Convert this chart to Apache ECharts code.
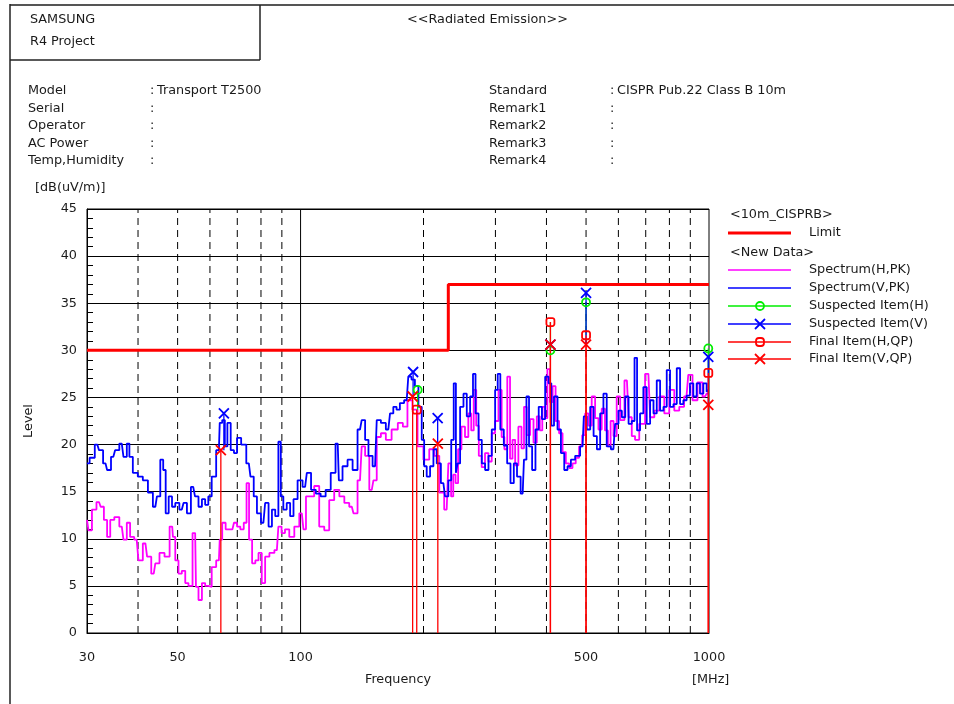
<!DOCTYPE html>
<html><head><meta charset="utf-8">
<script src="https://cdn.jsdelivr.net/npm/echarts@6/dist/echarts.min.js"></script>
<style>html,body{margin:0;padding:0;background:#fff}#c{width:954px;height:704px}</style>
</head><body><div id="c"></div>
<script>
// ---- data (frequency MHz, level dB(uV/m)) ----
const specV = [[30,18.0],[30.9,18.6],[31.8,20.0],[32.4,19.4],[33.3,18.0],[33.9,17.3],[34.8,18.7],[35.5,19.4],[36.5,20.1],[37.2,18.7],[37.9,20.1],[38.3,18.7],[39.4,17.0],[40.5,16.6],[41.7,16.2],[42.9,14.9],[44.1,13.4],[44.9,14.5],[45.8,18.4],[46.4,17.3],[47.1,12.7],[48.0,14.5],[48.9,13.4],[49.8,13.8],[51.2,13.1],[52.2,13.8],[53.2,12.7],[54.6,15.5],[55.7,14.5],[56.8,13.4],[57.9,14.2],[58.9,13.6],[60.0,14.5],[61.2,16.6],[63.1,19.4],[63.7,22.3],[64.9,22.6],[65.6,19.8],[66.8,22.3],[68.1,19.4],[69.3,19.1],[70.5,20.7],[72.6,20.0],[74.7,18.0],[76.1,16.6],[77.5,14.5],[78.9,12.7],[81.1,11.7],[82.7,13.8],[84.3,11.3],[85.9,13.1],[87.5,12.4],[89.0,20.3],[89.9,14.5],[91.6,13.1],[93.4,13.8],[95.2,12.4],[97.0,14.2],[99.7,16.2],[102.6,15.5],[104.6,17.0],[107.6,15.2],[110.4,14.8],[113.6,14.5],[116.8,15.2],[120.3,17.0],[123.3,20.1],[124.9,16.2],[128.5,17.7],[132.2,18.4],[136.0,17.3],[139.8,21.6],[142.5,22.6],[145.3,20.5],[148.0,18.8],[152.2,17.7],[155.1,22.6],[159.5,22.3],[164.0,21.6],[167.2,23.3],[170.2,24.0],[173.4,23.7],[176.7,24.4],[181.9,24.7],[185.2,27.2],[188.6,26.9],[192.5,26.2],[196.2,24.0],[199.8,20.5],[201.7,17.7],[205.6,16.6],[209.5,17.7],[213.5,19.5],[217.5,18.0],[223.7,15.9],[227.9,14.5],[232.3,16.2],[235.4,20.5],[238.9,26.5],[241.2,17.0],[243.5,18.0],[248.2,24.0],[252.9,25.4],[257.6,23.0],[262.6,25.1],[266.1,27.5],[270.2,23.3],[275.3,20.5],[280.3,18.0],[285.8,17.3],[291.2,18.8],[296.6,21.6],[302.4,25.8],[305.3,27.5],[311.5,21.6],[317.5,19.9],[323.5,18.0],[329.7,15.9],[335.8,18.0],[341.8,16.6],[349.8,14.8],[354.9,18.4],[359.7,25.1],[365.4,19.8],[372.5,17.3],[379.4,21.6],[386.4,24.0],[393.4,22.7],[400.8,27.2],[409.1,26.5],[413.2,22.0],[421.6,25.1],[429.9,21.6],[438.1,19.1],[446.3,17.3],[454.5,17.7],[463.6,18.4],[476.9,18.8],[490.3,19.8],[497.3,23.0],[506.8,21.6],[516.9,24.0],[526.6,20.9],[536.4,19.5],[546.4,23.3],[556.5,25.4],[567.2,19.8],[583.4,19.5],[594.8,22.2],[606.0,23.6],[617.6,22.9],[629.6,25.1],[641.4,22.2],[652.7,22.5],[661.7,29.2],[671.6,21.5],[684.4,23.3],[697.1,26.1],[710.6,22.2],[724.6,24.7],[738.1,23.3],[751.7,26.8],[766.5,23.6],[780.9,24.0],[795.2,27.9],[810.7,24.0],[826.2,24.3],[841.6,28.1],[857.4,24.3],[873.6,24.7],[889.8,25.2],[906.8,26.5],[924.1,25.1],[941.6,26.5],[959.6,25.4],[977.6,26.5],[995.9,25.6],[1000,25.8]];

const specH = [[30,12.0],[30.5,10.9],[31.2,13.1],[32.1,13.9],[32.7,13.4],[33.3,12.0],[33.9,10.2],[34.5,12.0],[35.5,12.3],[36.5,11.3],[37.2,9.9],[37.9,11.7],[38.6,10.2],[39.7,9.9],[40.5,7.7],[41.7,9.5],[42.5,8.1],[43.7,6.3],[44.5,7.4],[45.8,8.5],[47.1,8.1],[48.5,11.3],[48.9,10.2],[49.8,7.7],[50.7,6.3],[51.7,6.6],[52.7,5.3],[53.6,5.0],[55.2,10.6],[55.7,4.9],[56.8,3.5],[57.9,5.3],[58.9,5.0],[60.0,4.9],[61.2,7.0],[63.1,7.7],[63.7,9.9],[64.9,11.7],[66.2,11.0],[68.1,11.0],[69.3,11.7],[70.5,11.3],[71.9,11.0],[73.3,11.7],[74.2,15.9],[75.4,9.9],[76.8,7.4],[78.2,7.7],[79.6,8.5],[81.1,5.3],[82.7,8.1],[85.1,8.5],[87.5,8.8],[89.0,11.3],[90.7,10.6],[92.5,11.0],[95.2,10.2],[97.9,11.3],[100.7,12.7],[102.6,11.0],[103.6,14.5],[106.5,14.5],[109.5,15.6],[112.7,11.3],[115.9,10.9],[119.2,14.1],[122.6,15.2],[126.3,14.5],[129.7,13.8],[133.5,13.4],[136.0,12.7],[139.8,16.2],[142.5,19.8],[145.3,18.8],[149.4,15.2],[152.2,16.2],[155.1,20.8],[159.5,21.2],[164.0,20.5],[170.2,21.6],[175.9,22.3],[180.2,21.9],[185.2,24.7],[190.6,23.7],[196.2,19.8],[203.7,18.4],[209.5,19.5],[215.6,18.8],[221.6,14.9],[227.9,13.1],[232.3,18.0],[235,14.5],[238,16.8],[241.2,15.9],[245,19.5],[250.4,21.9],[255,20.8],[260,23.3],[263.5,21.5],[267.4,25.8],[271,22.0],[275.3,18.8],[280,17.6],[285.8,19.1],[291,18.2],[296.6,21.2],[302,22.5],[308.4,25.8],[313,20.8],[318,19.5],[323.5,27.2],[328,18.5],[332.6,20.5],[338,17.8],[344.9,21.9],[350,19.6],[354.9,24.0],[361,21.0],[368.7,22.7],[375,20.2],[382.6,23.0],[388,21.5],[393.4,24.0],[399,22.8],[405.1,28.0],[411,24.5],[417.2,26.2],[425,22.5],[434,21.2],[442,19.2],[450.4,18.0],[459,17.5],[467.5,18.0],[476,18.6],[485.6,19.8],[493,21.0],[502,23.3],[511,22.0],[521.5,25.1],[531,22.8],[541.4,21.6],[551,23.8],[561.7,21.5],[569.4,19.8],[579,22.5],[588.6,20.9],[600,25.1],[612.3,22.6],[629.6,26.8],[641.4,22.9],[652.7,20.9],[665.5,20.5],[684.4,22.2],[710.6,27.5],[724.6,22.9],[745.1,23.6],[766.5,25.1],[788.3,23.3],[810.7,25.8],[834.1,23.6],[857.4,24.0],[880.8,25.1],[898.6,27.4],[924.1,24.7],[950.5,26.6],[977.6,25.1],[995.9,25.4],[1000,25.4]];

const limitFreq  = [30, 230, 230, 1000];
const limitLevel = [30, 30, 37, 37];

const suspHFreq  = [193.5, 409, 500, 996];
const suspHLevel = [25.8, 30.0, 35.1, 30.2];
const suspVFreq  = [64.9, 188.6, 216.6, 409, 500, 996];
const suspVLevel = [23.3, 27.7, 22.8, 30.6, 36.1, 29.3];
const finalHFreq  = [192.5, 409, 500, 996];
const finalHLevel = [23.7, 33.0, 31.6, 27.6];
const finalVFreq  = [63.8, 188.1, 216.8, 409, 500, 996];
const finalVLevel = [19.4, 25.1, 20.1, 30.6, 30.6, 24.2];

const xTickLabels = [30, 50, 100, 500, 1000];
const xGridDashed = [40, 50, 60, 70, 80, 90, 200, 300, 400, 500, 600, 700, 800, 900];
const xGridSolid  = [100];

const infoLeftLabels  = ['Model', 'Serial', 'Operator', 'AC Power', 'Temp,Humidity'];
const infoLeftValues  = ['Transport T2500', '', '', '', ''];
const infoRightLabels = ['Standard', 'Remark1', 'Remark2', 'Remark3', 'Remark4'];
const infoRightValues = ['CISPR Pub.22 Class B 10m', '', '', '', ''];
const legendNames = ['Limit', 'Spectrum(H,PK)', 'Spectrum(V,PK)', 'Suspected Item(H)', 'Suspected Item(V)', 'Final Item(H,QP)', 'Final Item(V,QP)'];

// ---- styles ----
const FONT = '"DejaVu Sans", "Liberation Sans", sans-serif';
const FS = 12.8;
const TXT = '#1a1a1a';
const C_MAG = '#ff00ff', C_BLUE = '#0000ff', C_GREEN = '#00ee00', C_RED = '#ff0000';
const X_PATH = 'path://M0,0L10,10M10,0L0,10';

const zip = (f, v) => f.map((x, i) => [x, v[i]]);

// stem from level (value 1) down to base (value 2)
function stems(name, data, color, z) {
  return {
    type: 'custom', name: name, z: z, silent: true, clip: true,
    data: data, encode: { x: 0, y: 1 },
    renderItem: function (params, api) {
      const p0 = api.coord([api.value(0), api.value(2)]);
      const p1 = api.coord([api.value(0), api.value(1)]);
      return { type: 'line', shape: { x1: p0[0], y1: p0[1], x2: p1[0], y2: p1[1] },
               style: { stroke: color, lineWidth: 1.3 } };
    }
  };
}
function markers(name, data, symbol, size, color, z) {
  return {
    type: 'scatter', name: name, z: z, data: data, symbol: symbol, symbolSize: size,
    itemStyle: { color: 'rgba(0,0,0,0)', borderColor: color, borderWidth: 1.8, opacity: 1 },
    silent: true
  };
}

const graphics = [];
function txt(text, left, cy, size) {
  size = size || FS;
  graphics.push({ type: 'text', left: left, top: cy - size * 0.55,
    style: { text: text, font: size + 'px ' + FONT, fill: TXT } });
}
function ln(x1, y1, x2, y2, color, w) {
  graphics.push({ type: 'line', shape: { x1: x1, y1: y1, x2: x2, y2: y2 },
    style: { stroke: color, lineWidth: w } });
}
// frame
ln(10, 5, 954, 5, '#555', 2);
ln(10, 4, 10, 704, '#222', 1.5);
ln(260, 5, 260, 60, '#222', 1.5);
ln(10, 60, 260, 60, '#222', 1.5);
txt('SAMSUNG', 30, 20);
txt('R4 Project', 30, 42);
txt('<<Radiated Emission>>', 407, 20);
infoLeftLabels.forEach((t, i) => {
  const cy = 91.5 + i * 17.5;
  txt(t, 28, cy);
  txt(':', 150, cy);
  if (infoLeftValues[i]) txt(infoLeftValues[i], 157, cy);
});
infoRightLabels.forEach((t, i) => {
  const cy = 91.5 + i * 17.5;
  txt(t, 489, cy);
  txt(':', 610, cy);
  if (infoRightValues[i]) txt(infoRightValues[i], 617, cy);
});
txt('[dB(uV/m)]', 35, 188);
txt('[MHz]', 692, 680);
// legend
txt('<10m_CISPRB>', 730, 215);
txt('<New Data>', 730, 253);
const legY = [233, 270, 288, 306, 324, 342, 359];
const legC = [C_RED, C_MAG, C_BLUE, C_GREEN, C_BLUE, C_RED, C_RED];
legendNames.forEach((n, i) => {
  ln(728, legY[i], 791, legY[i], legC[i], i === 0 ? 3 : 1.5);
  txt(n, 809, legY[i]);
});
const mx = 760;
graphics.push({ type: 'circle', shape: { cx: mx, cy: legY[3], r: 4 }, style: { fill: 'none', stroke: C_GREEN, lineWidth: 1.8 } });
ln(mx - 5, legY[4] - 5, mx + 5, legY[4] + 5, C_BLUE, 1.8);
ln(mx + 5, legY[4] - 5, mx - 5, legY[4] + 5, C_BLUE, 1.8);
graphics.push({ type: 'rect', shape: { x: mx - 4, y: legY[5] - 4, width: 8, height: 8, r: 3 }, style: { fill: 'none', stroke: C_RED, lineWidth: 1.8 } });
ln(mx - 5, legY[6] - 5, mx + 5, legY[6] + 5, C_RED, 1.8);
ln(mx + 5, legY[6] - 5, mx - 5, legY[6] + 5, C_RED, 1.8);

const chart = echarts.init(document.getElementById('c'), null, { renderer: 'canvas' });
chart.setOption({
  animation: false,
  backgroundColor: '#fff',
  grid: { left: 87, top: 209, right: 245, bottom: 71, containLabel: false, outerBoundsMode: 'none',
          show: true, borderColor: '#000', borderWidth: 1, backgroundColor: 'transparent' },
  xAxis: {
    type: 'log', logBase: 10, min: 30, max: 1000,
    name: 'Frequency', nameLocation: 'middle', nameGap: 40,
    nameTextStyle: { color: TXT, fontSize: FS, fontFamily: FONT },
    axisLine: { show: true, lineStyle: { color: '#000', width: 1 } },
    axisTick: { show: false }, axisLabel: { show: false }, splitLine: { show: false }, minorTick: { show: false }
  },
  yAxis: {
    type: 'value', min: 0, max: 45, interval: 5,
    name: 'Level', nameLocation: 'middle', nameGap: 52, nameRotate: 90,
    nameTextStyle: { color: TXT, fontSize: FS, fontFamily: FONT },
    axisLine: { show: true, lineStyle: { color: '#000', width: 1 } },
    axisTick: { show: true, inside: true, length: 6, lineStyle: { color: '#000' } },
    minorTick: { show: true, splitNumber: 5, length: 6, lineStyle: { color: '#000', width: 1 } },
    axisLabel: { color: TXT, fontSize: FS, fontFamily: FONT, margin: 10 },
    splitLine: { show: true, lineStyle: { color: '#000', width: 1 } }
  },
  graphic: graphics,
  series: [
    { type: 'custom', name: 'gridDashed', z: 1, silent: true, data: xGridDashed.map(f => [f, 0]), encode: { x: 0, y: 1 },
      renderItem: function (p, api) {
        const a = api.coord([api.value(0), 0]), b = api.coord([api.value(0), 45]);
        return { type: 'line', shape: { x1: a[0], y1: a[1], x2: b[0], y2: b[1] }, style: { stroke: '#000', lineWidth: 1, lineDash: [7, 5] } };
      } },
    { type: 'custom', name: 'gridSolid', z: 1, silent: true, data: xGridSolid.map(f => [f, 0]), encode: { x: 0, y: 1 },
      renderItem: function (p, api) {
        const a = api.coord([api.value(0), 0]), b = api.coord([api.value(0), 45]);
        return { type: 'line', shape: { x1: a[0], y1: a[1], x2: b[0], y2: b[1] }, style: { stroke: '#000', lineWidth: 1 } };
      } },
    { type: 'custom', name: 'xLabels', z: 1, silent: true, clip: false, data: xTickLabels.map(f => [f, 0]), encode: { x: 0, y: 1 },
      renderItem: function (p, api) {
        const a = api.coord([api.value(0), 0]);
        return { type: 'text', x: a[0], y: a[1] + 25,
                 style: { text: String(api.value(0)), font: FS + 'px ' + FONT, fill: TXT, align: 'center', verticalAlign: 'middle', textAlign: 'center', textVerticalAlign: 'middle' } };
      } },
    { type: 'line', name: 'Spectrum(H,PK)', data: specH, showSymbol: false, step: 'middle', z: 3,
      lineStyle: { color: C_MAG, width: 1.8 }, itemStyle: { color: C_MAG }, silent: true },
    { type: 'line', name: 'Spectrum(V,PK)', data: specV, showSymbol: false, step: 'middle', z: 4,
      lineStyle: { color: C_BLUE, width: 1.8 }, itemStyle: { color: C_BLUE }, silent: true },
    { type: 'line', name: 'Limit', data: zip(limitFreq, limitLevel), showSymbol: false, z: 5,
      lineStyle: { color: C_RED, width: 3 }, itemStyle: { color: C_RED }, silent: true },
    stems('suspHStem', suspHFreq.map((f, i) => [f, suspHLevel[i], finalHLevel[i]]), C_GREEN, 6),
    stems('suspVStem', suspVFreq.map((f, i) => [f, suspVLevel[i], finalVLevel[i]]), C_BLUE, 7),
    stems('finalHStem', finalHFreq.map((f, i) => [f, finalHLevel[i], 0]), C_RED, 8),
    stems('finalVStem', finalVFreq.map((f, i) => [f, finalVLevel[i], 0]), C_RED, 8),
    markers('Suspected Item(H)', zip(suspHFreq, suspHLevel), 'circle', 8, C_GREEN, 9),
    markers('Suspected Item(V)', zip(suspVFreq, suspVLevel), X_PATH, 10, C_BLUE, 10),
    markers('Final Item(H,QP)', zip(finalHFreq, finalHLevel), 'roundRect', 8, C_RED, 11),
    markers('Final Item(V,QP)', zip(finalVFreq, finalVLevel), X_PATH, 10, C_RED, 12)
  ]
});
</script>
</body></html>
